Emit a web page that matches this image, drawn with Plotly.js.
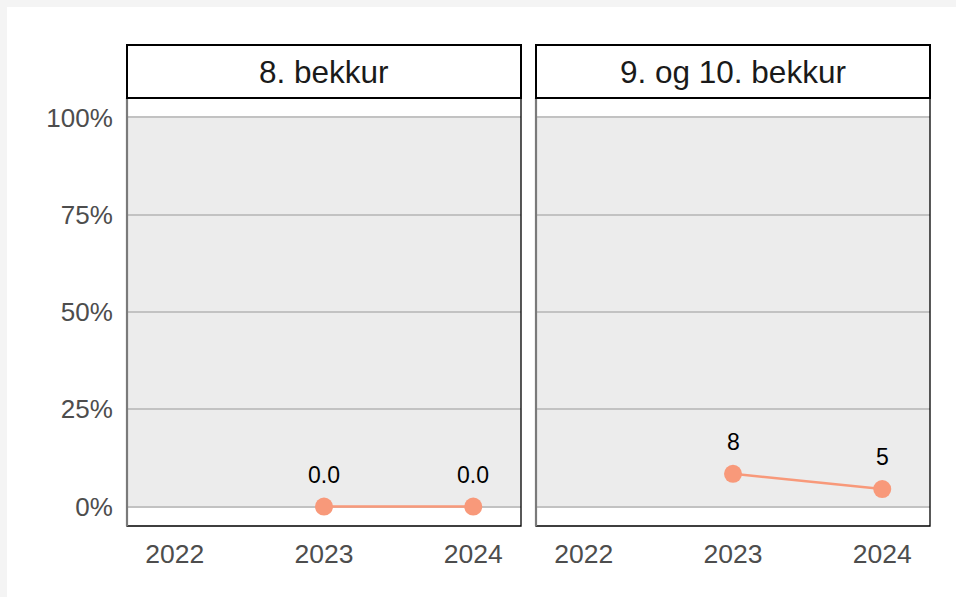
<!DOCTYPE html>
<html>
<head>
<meta charset="utf-8">
<script src="https://cdn.plot.ly/plotly-3.0.1.min.js"></script>
<style>
html,body{margin:0;padding:0;background:#f4f4f4;width:956px;height:597px;overflow:hidden;}
#chart{position:absolute;left:7px;top:7px;width:949px;height:590px;background:#fff;}
</style>
</head>
<body>
<div id="chart"></div>
<script>
// Data
const years = [2022, 2023, 2024];
const panels = ["8. bekkur", "9. og 10. bekkur"];
const values8 = [null, 0, 0];
const labels8 = ["", "0.0", "0.0"];
const values910 = [null, 8.4, 4.5];
const labels910 = ["", "8", "5"];
const yTicks = [0, 25, 50, 75, 100];
const yTickText = ["0%", "25%", "50%", "75%", "100%"];

const salmon = "#F8997A";
const fontFam = "'Liberation Sans', Arial, sans-serif";

const W = 949, H = 590;
const dom1 = [120 / W, 514 / W];
const dom2 = [529 / W, 923 / W];
const yDom = [71 / H, 499 / H];
const stripY = [499 / H, 552 / H];

function trace(vals, xa, ya) {
  return {
    x: years, y: vals, xaxis: xa, yaxis: ya,
    mode: "lines+markers",
    line: {color: salmon, width: 2.5},
    marker: {color: salmon, size: 18},
    connectgaps: false,
    hoverinfo: "skip",
    showlegend: false
  };
}

const data = [trace(values8, "x", "y"), trace(values910, "x2", "y2")];

const annotations = [];
function addLabels(vals, labs, xr, yr) {
  vals.forEach((v, i) => {
    if (v === null) return;
    annotations.push({
      x: years[i], y: v, xref: xr, yref: yr, text: labs[i],
      showarrow: false, yanchor: "bottom", yshift: 17,
      font: {family: fontFam, size: 23, color: "#000"}
    });
  });
}
addLabels(values8, labels8, "x", "y");
addLabels(values910, labels910, "x2", "y2");

panels.forEach((p, i) => {
  const xr = i === 0 ? "x domain" : "x2 domain";
  annotations.push({
    x: 0.5, y: (stripY[0] + stripY[1]) / 2, xref: xr, yref: "paper",
    text: p, showarrow: false, xanchor: "center", yanchor: "middle",
    font: {family: fontFam, size: 31.5, color: "#1a1a1a"}
  });
});

const shapes = [];
[["x domain", "y"], ["x2 domain", "y2"]].forEach(([xr, yr], i) => {
  const yd = yr + " domain";
  shapes.push({type: "rect", xref: xr, yref: yr, x0: 0, x1: 1, y0: 0, y1: 100,
    fillcolor: "#ececec", line: {width: 0}, layer: "below"});
  shapes.push({type: "rect", xref: xr, yref: yd, x0: 0, x1: 1, y0: 0, y1: 1,
    fillcolor: "rgba(0,0,0,0)", line: {color: "#000", width: 1.3}, layer: "above"});
  shapes.push({type: "line", xref: xr, yref: yd, x0: 0, x1: 0, y0: 0, y1: 1,
    line: {color: "#7a7a7a", width: 2.2}, layer: "above"});
  shapes.push({type: "rect", xref: xr, yref: "paper", x0: 0, x1: 1, y0: stripY[0], y1: stripY[1],
    fillcolor: "#fff", line: {color: "#000", width: 2}, layer: "above"});
});

const xBase = {
  range: [2021.68, 2024.32], tickvals: years, ticktext: years.map(String),
  showgrid: false, zeroline: false, showline: false,
  ticks: "outside", ticklen: 4, tickcolor: "rgba(0,0,0,0)",
  tickfont: {family: fontFam, size: 26.5, color: "#4d4d4d"}, fixedrange: true
};
const yBase = {
  range: [-5, 105], tickvals: yTicks, ticktext: yTickText,
  showgrid: true, gridcolor: "#c2c2c2", gridwidth: 2, zeroline: false, showline: false,
  ticks: "outside", ticklen: 8, tickcolor: "rgba(0,0,0,0)",
  tickfont: {family: fontFam, size: 26, color: "#4d4d4d"}, fixedrange: true
};

const layout = {
  width: W, height: H,
  margin: {l: 0, r: 0, t: 0, b: 0},
  paper_bgcolor: "#fff", plot_bgcolor: "#fff",
  xaxis: Object.assign({}, xBase, {domain: dom1, anchor: "y"}),
  yaxis: Object.assign({}, yBase, {domain: yDom, anchor: "x"}),
  xaxis2: Object.assign({}, xBase, {domain: dom2, anchor: "y2"}),
  yaxis2: Object.assign({}, yBase, {domain: yDom, anchor: "x2", showticklabels: false}),
  annotations: annotations,
  shapes: shapes,
  showlegend: false
};

Plotly.newPlot("chart", data, layout, {displayModeBar: false, staticPlot: true});
</script>
</body>
</html>
